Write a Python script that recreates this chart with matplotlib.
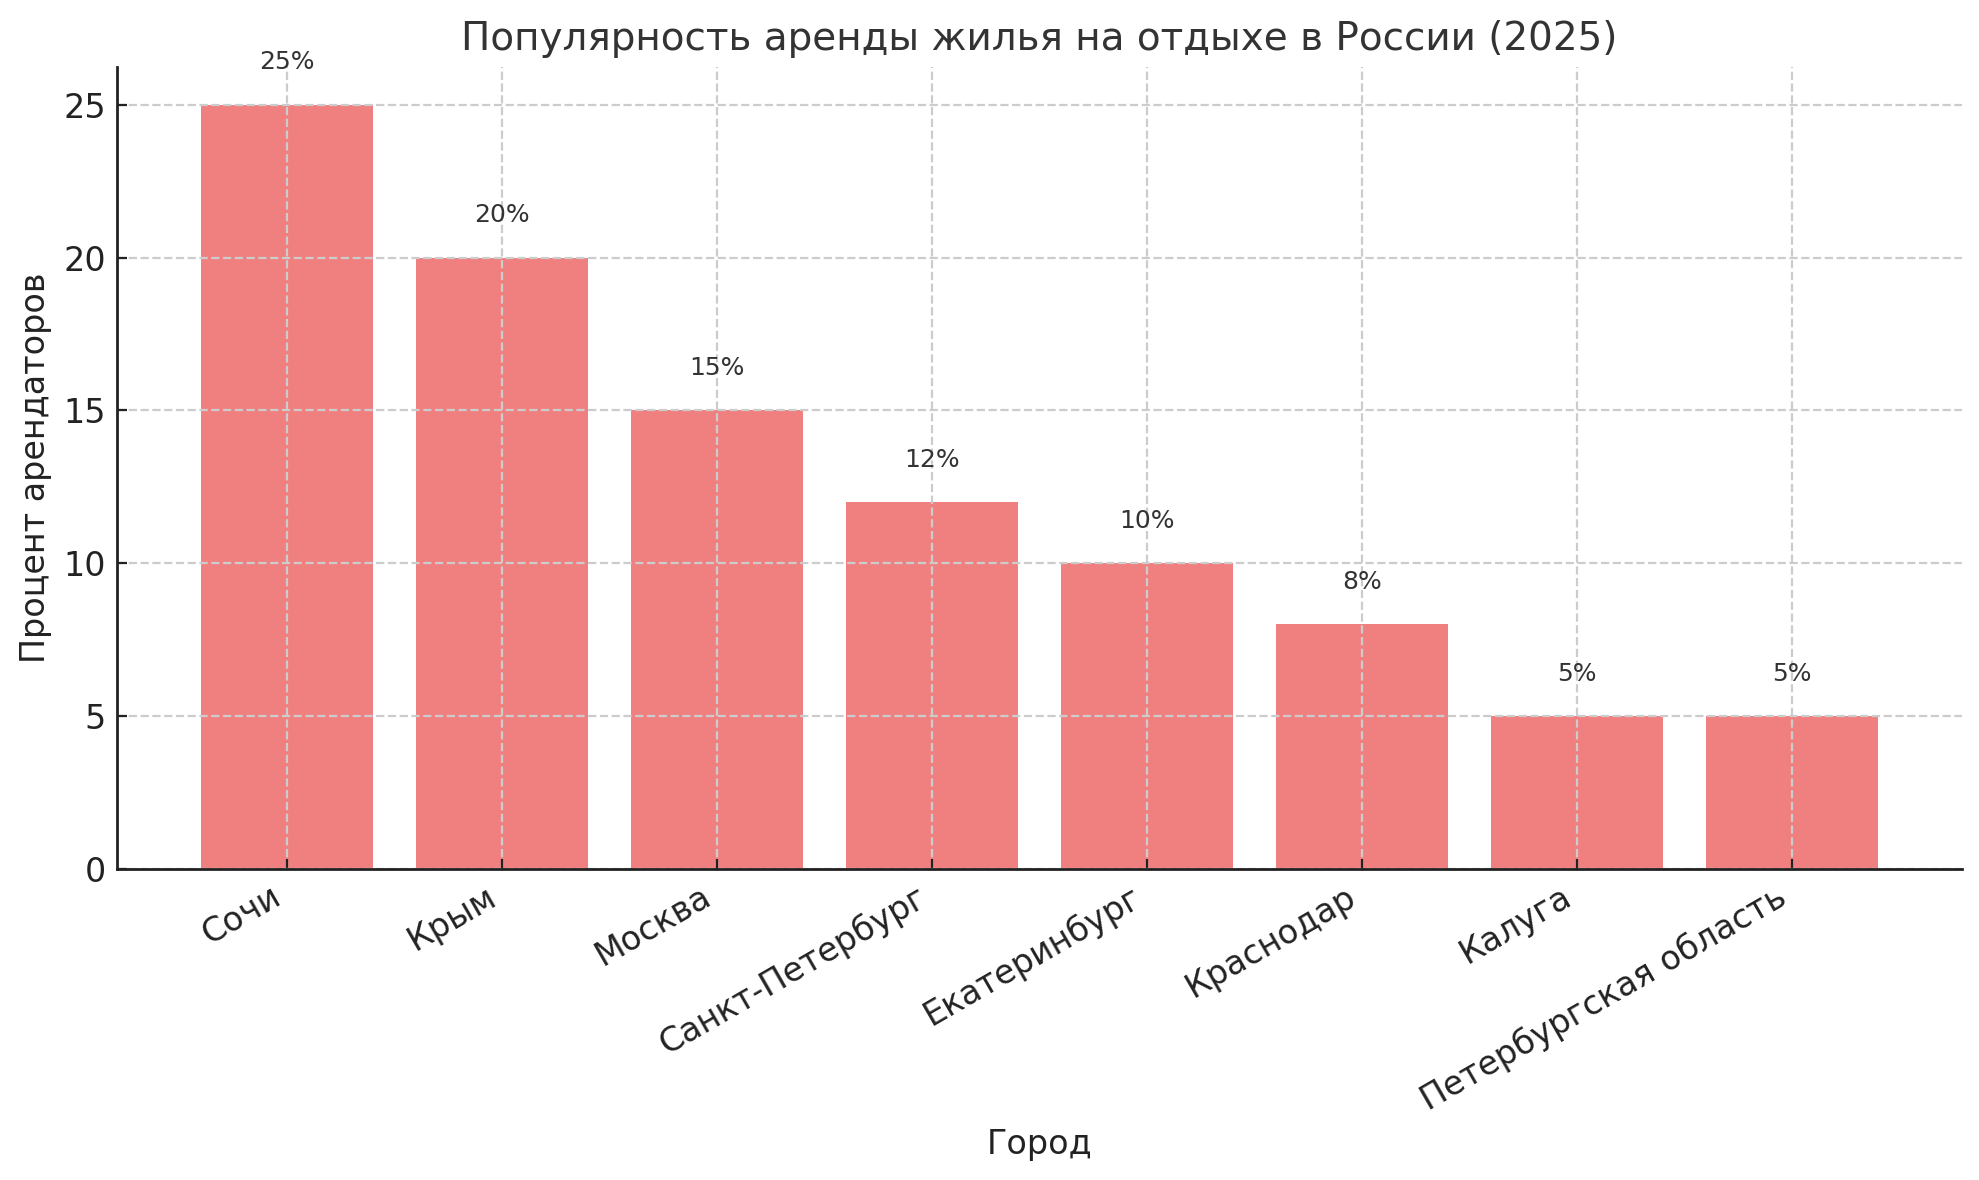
import matplotlib
matplotlib.use("Agg")
import matplotlib.pyplot as plt

cities = ["Сочи", "Крым", "Москва", "Санкт-Петербург", "Екатеринбург",
          "Краснодар", "Калуга", "Петербургская область"]
shares = [25, 20, 15, 12, 10, 8, 5, 5]

plt.rcParams['font.family'] = ['DejaVu Sans']

fig = plt.figure(figsize=(9.895, 5.9), dpi=200)
ax = fig.add_axes([0.0591, 0.2636, 0.9323, 0.68])

ax.bar(cities, shares, color='lightcoral', width=0.8, zorder=1)

# подписи над столбцами
for i, v in enumerate(shares):
    ax.text(i, v + 1, f'{v}%', ha='center', va='bottom', fontsize=9, color='#333333')

ax.set_title('Популярность аренды жилья на отдыхе в России (2025)', fontsize=14, color='#333333')
ax.set_xlabel('Город', fontsize=12, color='#222222', labelpad=4)
ax.set_ylabel('Процент арендаторов', fontsize=12, color='#222222')

ax.grid(True, linestyle='--', color='#cccccc', linewidth=0.8, zorder=2)
ax.set_axisbelow(False)
ax.spines['top'].set_visible(False)
ax.spines['right'].set_visible(False)
for s in ['left', 'bottom']:
    ax.spines[s].set_color('#222222')
    ax.spines[s].set_linewidth(1.0)
    ax.spines[s].set_zorder(3)

ax.tick_params(axis='both', direction='in', labelsize=12, colors='#222222', pad=4)
plt.setp(ax.get_xticklabels(), rotation=30, ha='right')

fig.savefig('out.png', dpi=200)
